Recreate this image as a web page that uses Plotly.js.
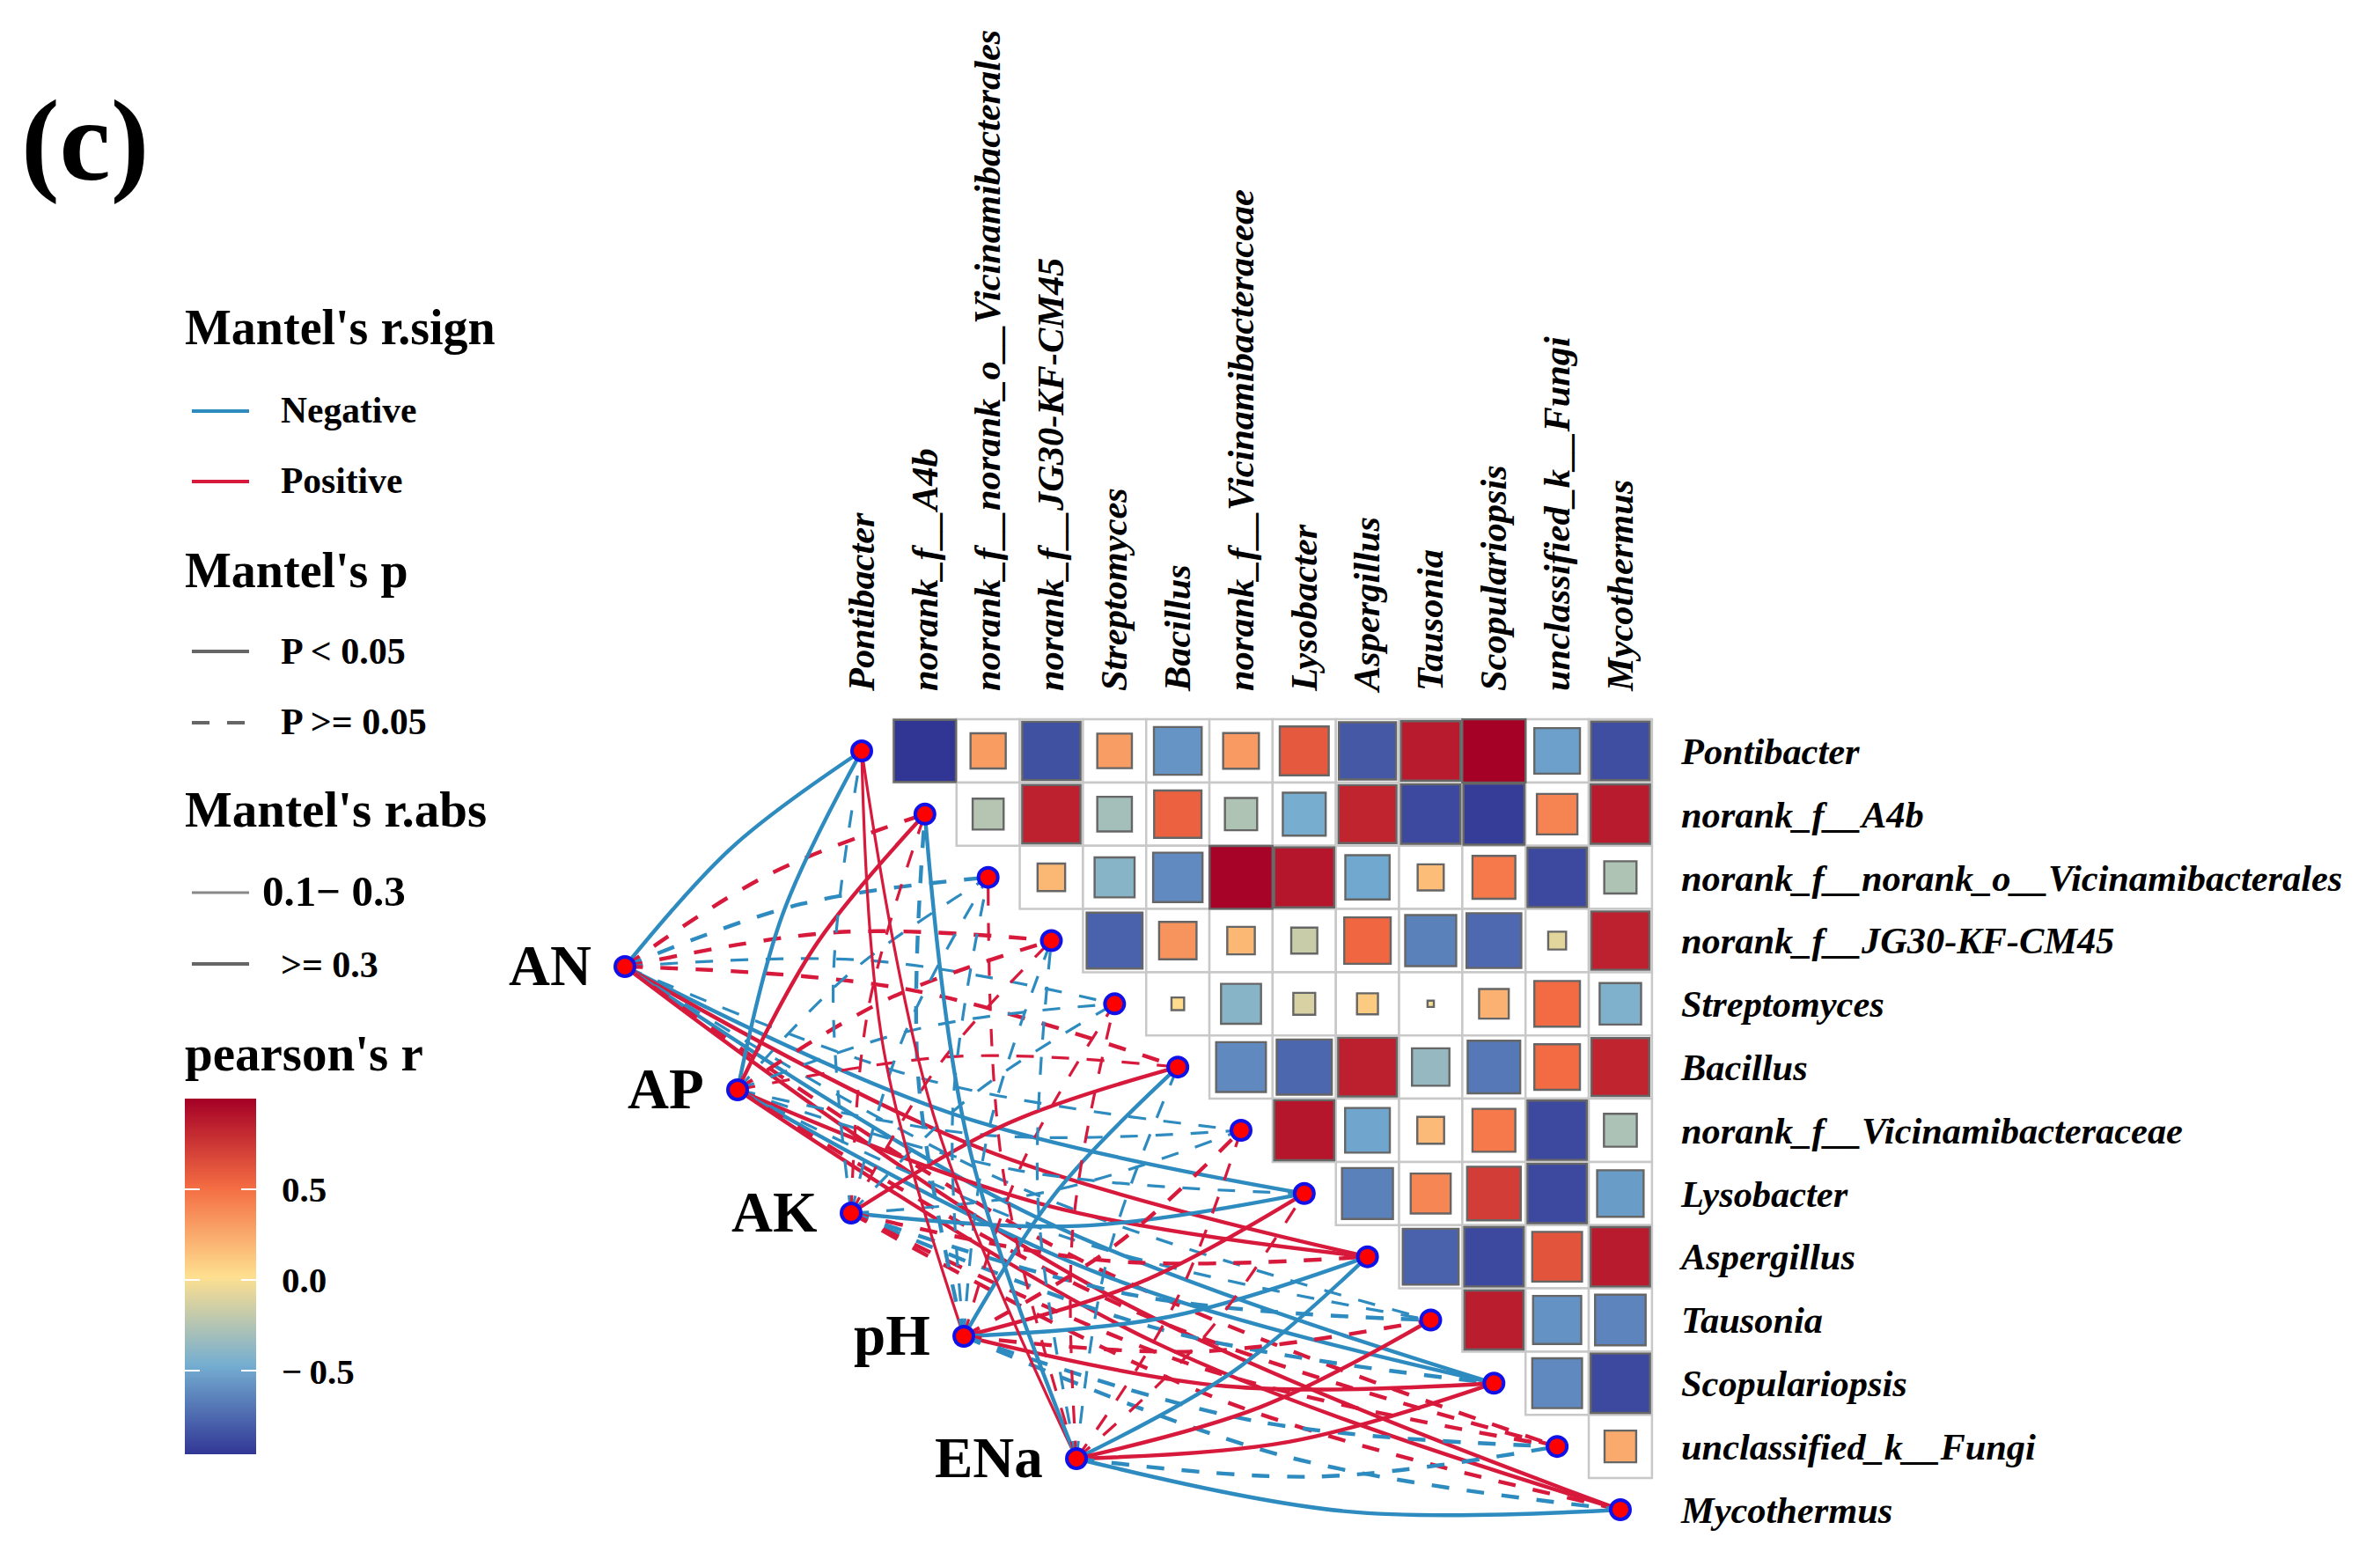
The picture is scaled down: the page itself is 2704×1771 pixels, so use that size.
<!DOCTYPE html>
<html><head><meta charset="utf-8">
<script src="https://cdn.plot.ly/plotly-3.0.1.min.js"></script>
<style>html,body{margin:0;padding:0;background:#fff}</style></head>
<body><div id="chart" style="width:2704px;height:1771px"></div>
<script>
// ---------- data ----------
const taxa = ["Pontibacter","norank_f__A4b","norank_f__norank_o__Vicinamibacterales","norank_f__JG30-KF-CM45","Streptomyces","Bacillus","norank_f__Vicinamibacteraceae","Lysobacter","Aspergillus","Tausonia","Scopulariopsis","unclassified_k__Fungi","Mycothermus"];
// upper triangle of pearson's r; row i holds columns i+1 .. 12
const corrRow0 = [-0.96,0.31,-0.85,0.30,-0.57,0.32,0.60,-0.82,0.88,1.00,-0.52,-0.86];
const corrRow1 = [-0.24,0.85,-0.30,0.56,-0.26,-0.46,0.84,-0.88,-0.93,0.41,0.88];
const corrRow2 = [0.19,-0.40,-0.61,0.99,0.90,-0.49,0.17,0.46,-0.88,-0.26];
const corrRow3 = [-0.78,0.35,0.19,-0.17,0.54,-0.65,-0.75,-0.08,0.85];
const corrRow4 = [0.04,-0.40,-0.12,0.11,-0.01,0.22,0.52,-0.43];
const corrRow5 = [-0.62,-0.76,0.86,-0.35,-0.69,0.52,0.84];
const corrRow6 = [0.90,-0.50,0.18,0.46,-0.88,-0.27];
const corrRow7 = [-0.65,0.40,0.72,-0.88,-0.54];
const corrRow8 = [-0.78,-0.88,0.62,0.88];
const corrRow9 = [0.87,-0.58,-0.64];
const corrRow10 = [-0.62,-0.88];
const corrRow11 = [0.25];
const corrRows = [corrRow0,corrRow1,corrRow2,corrRow3,corrRow4,corrRow5,corrRow6,corrRow7,corrRow8,corrRow9,corrRow10,corrRow11];

const envNames = ["AN","AP","AK","pH","ENa"];
// Mantel's r of each environment factor against each taxon
const mantelR_AN  = [-0.35, 0.32,-0.33, 0.32,-0.20, 0.32,-0.22,-0.36, 0.36,-0.25,-0.36, 0.31, 0.36];
const mantelR_AP  = [-0.33, 0.35,-0.25, 0.30,-0.20, 0.25,-0.22,-0.25, 0.36,-0.25,-0.36, 0.31, 0.36];
const mantelR_AK  = [-0.25, 0.25,-0.25, 0.25,-0.22, 0.34,-0.25,-0.35, 0.31,-0.31,-0.31, 0.31, 0.31];
const mantelR_pH  = [ 0.25,-0.30,-0.25,-0.25, 0.20,-0.33, 0.30, 0.34,-0.35, 0.31, 0.36,-0.31,-0.31];
const mantelR_ENa = [ 0.28,-0.30, 0.20,-0.20, 0.20,-0.24, 0.22, 0.25,-0.30, 0.33, 0.36,-0.31,-0.33];
const mantelP_AN  = [0.01,0.2,0.2,0.2,0.3,0.2,0.2,0.01,0.01,0.2,0.01,0.2,0.01];
const mantelP_AP  = [0.01,0.01,0.2,0.2,0.3,0.2,0.2,0.2,0.01,0.2,0.01,0.2,0.01];
const mantelP_AK  = [0.2,0.2,0.2,0.2,0.3,0.01,0.2,0.01,0.2,0.2,0.2,0.2,0.2];
const mantelP_pH  = [0.01,0.2,0.2,0.2,0.3,0.01,0.2,0.01,0.01,0.2,0.01,0.2,0.2];
const mantelP_ENa = [0.01,0.01,0.2,0.2,0.3,0.2,0.2,0.2,0.01,0.01,0.01,0.2,0.01];
const mantelR = [mantelR_AN,mantelR_AP,mantelR_AK,mantelR_pH,mantelR_ENa];
const mantelP = [mantelP_AN,mantelP_AP,mantelP_AK,mantelP_pH,mantelP_ENa];

const colorbarStops = [-0.96,-0.47,0.02,0.51,1.0];
const colorbarTicks = [-0.5,0,0.5];
const colorbarLabels = ["\u2212\u20090.5","0.0","0.5"];

// ---------- layout constants ----------
const W = 2704, H = 1771;
const px = v => v / W, py = v => 1 - v / H;
const CELL = 71.83;
const FONT = "Liberation Serif";
const BLUE = "#2e8bc0", RED = "#d7193c", GREY = "#666666";
const colorscale = [[0,"#313695"],[0.25,"#74ADD1"],[0.5,"#FEE090"],[0.75,"#F46D43"],[1,"#A50026"]];
const envCol = [-3.745,-1.963,-0.167,1.615,3.397];
const envRow = [3.411,5.36,7.309,9.258,11.193];
const CURV = 0.05; // apex offset as a share of chord length

const traces = [];

// links, one curve per environment/taxon pair
envNames.forEach((_, e) => {
  taxa.forEach((__, t) => {
    const r = mantelR[e][t], p = mantelP[e][t];
    const x0 = envCol[e], y0 = envRow[e], x1 = t, y1 = t;
    const dx = x1 - x0, dy = y1 - y0;
    const side = t < 6 ? 1 : -1;           // upper taxa bow up-left, lower taxa bow down-left
    const ax = (x0 + x1) / 2 + side * CURV * dy;
    const ay = (y0 + y1) / 2 - side * CURV * dx;
    traces.push({
      type: "scatter", mode: "lines", x: [x0, ax, x1], y: [y0, ay, y1],
      hoverinfo: "skip", showlegend: false,
      line: { shape: "spline", smoothing: 1, color: r < 0 ? BLUE : RED,
              width: Math.abs(r) >= 0.3 ? 4.4 : 3.2,
              dash: p < 0.05 ? "solid" : "20px,20px" }
    });
  });
});

// heat-map cells
const cellX = [], cellY = [], cellR = [];
corrRows.forEach((row, i) => row.forEach((v, k) => { cellX.push(i + 1 + k); cellY.push(i); cellR.push(v); }));
traces.push({
  type: "scatter", mode: "markers", x: cellX, y: cellY, hoverinfo: "skip", showlegend: false,
  marker: { symbol: "square", size: CELL, opacity: 1, color: "#ffffff", line: { color: "#c8c8c8", width: 2.5 } }
});
traces.push({
  type: "scatter", mode: "markers", x: cellX, y: cellY, showlegend: false, text: cellR,
  marker: { symbol: "square", size: cellR.map(v => Math.sqrt(Math.abs(v)) * CELL), opacity: 1,
            color: cellR, colorscale, cmin: colorbarStops[0], cmax: colorbarStops[4], showscale: false,
            line: { color: GREY, width: 2.4 } }
});

// nodes
const nodeMarker = { color: "#ff0000", size: 22, opacity: 1, line: { color: "#1010e8", width: 4 } };
traces.push({ type: "scatter", mode: "markers", x: taxa.map((_, i) => i), y: taxa.map((_, i) => i),
              hoverinfo: "skip", showlegend: false, marker: nodeMarker });
traces.push({ type: "scatter", mode: "markers", x: envCol, y: envRow, text: envNames,
              hoverinfo: "text", showlegend: false, marker: nodeMarker });

// colour bar drawn on its own axis
traces.push({
  type: "heatmap", xaxis: "x2", yaxis: "y2", x: [0, 1], y: colorbarStops,
  z: colorbarStops.map(v => [v, v]), zsmooth: "best", colorscale,
  zmin: colorbarStops[0], zmax: colorbarStops[4], showscale: false, hoverinfo: "skip"
});

// ---------- text ----------
const txt = (text, x, y, size, extra) => Object.assign({
  xref: "paper", yref: "paper", x: px(x), y: py(y), text, showarrow: false,
  xanchor: "left", yanchor: "middle",
  font: { family: FONT, size, color: "#000", weight: 700 }
}, extra || {});

const annotations = [
  txt("(c)", 22, 160, 131),
  txt("Mantel's r.sign", 208, 372, 56),
  txt("Negative", 317, 466, 41.5),
  txt("Positive", 317, 546, 41.5),
  txt("Mantel's p", 208, 648, 56),
  txt("P &lt; 0.05", 317, 740, 42),
  txt("P &gt;= 0.05", 317, 820, 42),
  txt("Mantel's r.abs", 208, 920, 57),
  txt("0.1\u2212 0.3", 296, 1013, 49),
  txt("&gt;= 0.3", 317, 1096, 42),
  txt("pearson's r", 208, 1196, 57)
];
envNames.forEach((n, e) => annotations.push({
  xref: "x", yref: "y", x: envCol[e], y: envRow[e], text: n, showarrow: false,
  xanchor: "right", yanchor: "middle", xshift: -36, yshift: 1,
  font: { family: FONT, size: 65, color: "#000", weight: 700 }
}));

const key = (y, color, width, dash) => ({
  type: "line", xref: "paper", yref: "paper", x0: px(218), x1: px(283), y0: py(y), y1: py(y),
  line: { color, width, dash: dash || "solid" }
});
const shapes = [
  key(467, BLUE, 4.2), key(547, RED, 4.2),
  key(740, GREY, 4.2), key(821, GREY, 4.2, "20px,20px"),
  key(1014, "#888888", 3), key(1095, GREY, 3.8)
];

const tickFont = { family: FONT, size: 42.4, color: "#000", weight: 700, style: "italic" };
const idx = taxa.map((_, i) => i);
const layout = {
  width: W, height: H, autosize: false, margin: { l: 0, r: 0, t: 0, b: 0, pad: 0 },
  paper_bgcolor: "#fff", plot_bgcolor: "rgba(0,0,0,0)", showlegend: false,
  xaxis: { domain: [px(640), px(1880)], range: [(640 - 979) / CELL, (1880 - 979) / CELL],
           side: "top", anchor: "y", tickmode: "array", tickvals: idx, ticktext: taxa,
           tickangle: -90, tickfont: tickFont, ticks: "", ticklabelstandoff: 24,
           showgrid: false, zeroline: false, showline: false, automargin: false },
  yaxis: { domain: [py(1740), py(810)], range: [(1740 - 853) / CELL, (810 - 853) / CELL],
           side: "right", anchor: "x", tickmode: "array", tickvals: idx, ticktext: taxa,
           tickfont: tickFont, ticks: "", ticklabelstandoff: 29,
           showgrid: false, zeroline: false, showline: false, automargin: false },
  xaxis2: { domain: [px(210), px(291)], range: [0, 1], anchor: "y2", visible: false, fixedrange: true },
  yaxis2: { domain: [py(1652), py(1248)], range: [colorbarStops[0], colorbarStops[4]], anchor: "x2",
            side: "right", tickmode: "array", tickvals: colorbarTicks, ticktext: colorbarLabels,
            ticks: "inside", ticklen: 17, tickwidth: 2, tickcolor: "#ffffff", mirror: "ticks",
            ticklabelstandoff: 28, tickfont: { family: FONT, size: 41, color: "#000", weight: 700 },
            showgrid: false, zeroline: false, showline: false, automargin: false },
  annotations, shapes
};
Plotly.newPlot("chart", traces, layout, { displayModeBar: false, staticPlot: true });
</script></body></html>
